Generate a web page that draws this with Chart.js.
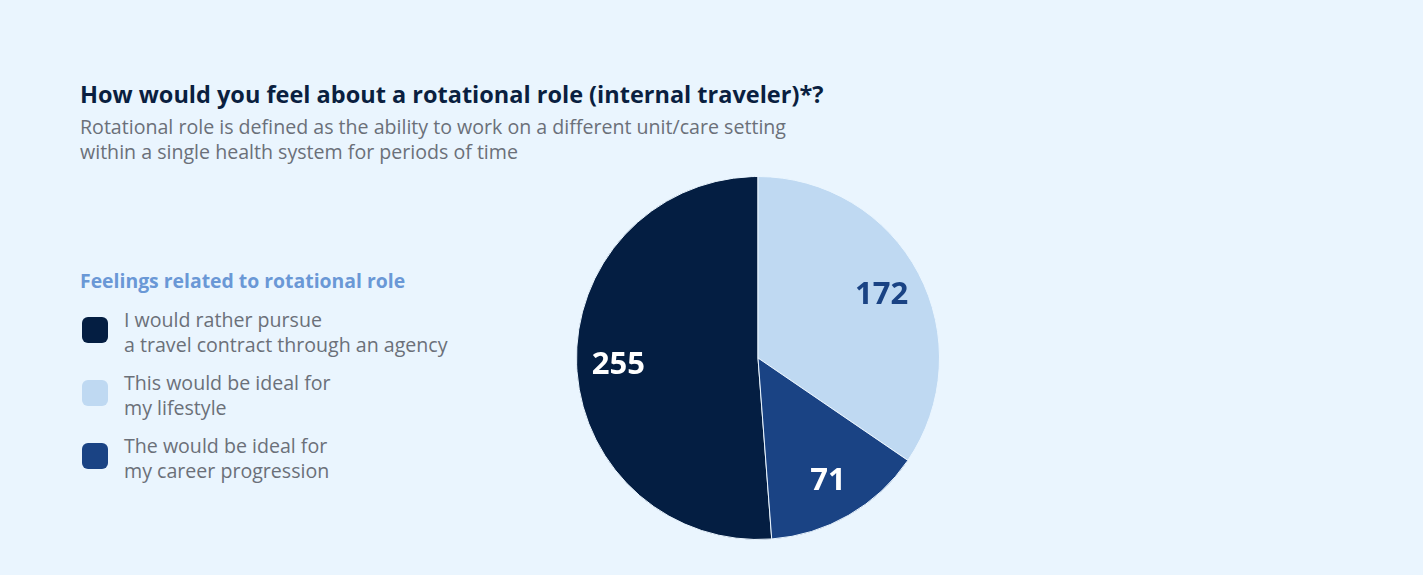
<!DOCTYPE html>
<html>
<head>
<meta charset="utf-8">
<script src="https://cdn.jsdelivr.net/npm/chart.js@4.4.1/dist/chart.umd.min.js"></script>
<style>
  html, body { margin: 0; padding: 0; }
  body {
    width: 1423px; height: 575px; background: #eaf5fe;
    font-family: "Open Sans", "Noto Sans", sans-serif; position: relative; overflow: hidden;
  }
  h1 {
    position: absolute; left: 80px; top: 78px; margin: 0;
    font-size: 23.5px; font-weight: 700; color: #0a1f40;
  }
  .sub {
    position: absolute; left: 80px; top: 114px; margin: 0;
    font-size: 19.6px; line-height: 25px; color: #6b7079;
  }
  .legend { position: absolute; left: 80px; top: 267px; }
  .legend h2 { margin: 0 0 13px 0; font-size: 19.4px; font-weight: 700; color: #6a98d6; }
  .item { display: flex; align-items: flex-start; margin-bottom: 13px; }
  .sw { width: 26px; height: 26px; border-radius: 6px; margin: 10px 16px 0 2px; flex: none; }
  .item span { font-size: 19.6px; line-height: 25px; color: #6b7079; }
  #wrap { position: absolute; left: 576px; top: 176px; width: 364px; height: 364px; }
</style>
</head>
<body>
<h1>How would you feel about a rotational role (internal traveler)*?</h1>
<p class="sub">Rotational role is defined as the ability to work on a different unit/care setting<br>within a single health system for periods of time</p>
<div class="legend" id="legend"><h2>Feelings related to rotational role</h2></div>
<div id="wrap"><canvas id="pie"></canvas></div>
<script>
const categories = [
  ["I would rather pursue", "a travel contract through an agency"],
  ["This would be ideal for", "my lifestyle"],
  ["The would be ideal for", "my career progression"]
];
const values = [255, 172, 71];
const colors = ["#041e42", "#bfd9f2", "#1a4384"];
const labelColors = ["#ffffff", "#1a4384", "#ffffff"];

const total = values.reduce((a, b) => a + b, 0);

// html legend
const legend = document.getElementById('legend');
categories.forEach((lines, i) => {
  const row = document.createElement('div');
  row.className = 'item';
  row.innerHTML = '<div class="sw" style="background:' + colors[i] + '"></div><span>' + lines.join('<br>') + '</span>';
  legend.appendChild(row);
});

// value labels inside each slice
const sliceLabels = {
  id: 'sliceLabels',
  afterDatasetsDraw(chart) {
    const ctx = chart.ctx;
    const meta = chart.getDatasetMeta(0);
    ctx.save();
    ctx.font = '700 31px "Open Sans", "Noto Sans", sans-serif';
    ctx.textAlign = 'center';
    ctx.textBaseline = 'alphabetic';
    meta.data.forEach((arc, i) => {
      const p = arc.getProps(['x', 'y', 'startAngle', 'endAngle', 'outerRadius']);
      const mid = (p.startAngle + p.endAngle) / 2;
      const r = p.outerRadius * 0.77;
      ctx.fillStyle = labelColors[i];
      ctx.fillText(String(values[i]), p.x + Math.cos(mid) * r, p.y + Math.sin(mid) * r + 11);
    });
    ctx.restore();
  }
};

new Chart(document.getElementById('pie'), {
  type: 'pie',
  data: {
    labels: categories.map(l => l.join(' ')),
    datasets: [{
      data: values,
      backgroundColor: colors,
      borderColor: '#eaf5fe',
      borderWidth: 1
    }]
  },
  options: {
    responsive: true,
    maintainAspectRatio: false,
    animation: false,
    rotation: -values[0] / total * 360,
    layout: { padding: 0 },
    plugins: {
      legend: { display: false },
      tooltip: { enabled: false }
    }
  },
  plugins: [sliceLabels]
});
</script>
</body>
</html>
